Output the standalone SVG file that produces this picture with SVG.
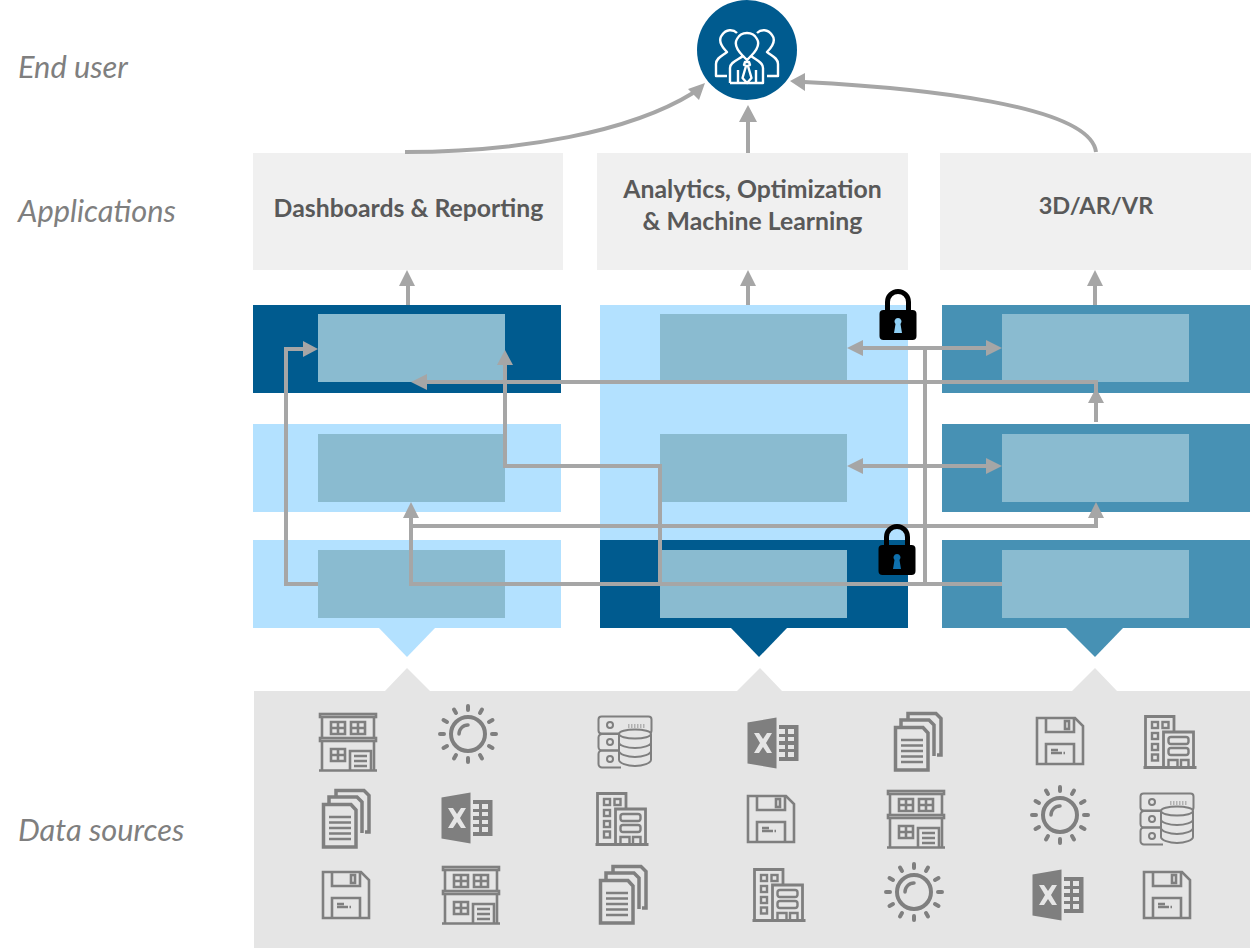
<svg xmlns="http://www.w3.org/2000/svg" width="1260" height="948" viewBox="0 0 1260 948">
<style>
.lbl{font-family:Lato,"Liberation Sans",sans-serif;font-style:italic;font-size:30.800px;fill:#7f7f7f}
.app{font-family:Lato,"Liberation Sans",sans-serif;font-weight:700;font-size:24.800px;fill:#595959;text-anchor:middle}
.appbox{fill:#f0f0f0}.lt{fill:#b3e1ff}.dk{fill:#005b8f}.md{fill:#4791b4}.in{fill:#8abbd0}
.c{fill:none;stroke:#a6a6a6;stroke-width:4}
.h{fill:#a6a6a6}
.i{fill:none;stroke:#7f7f7f;stroke-width:2.6}
.f{fill:#7f7f7f}
</style>
<defs>
<symbol id="shop" overflow="visible" viewBox="-30 -30 60 60" width="60" height="60">
<g class="i"><rect x="-28" y="-28" width="56" height="3"/><rect x="-28" y="-4" width="56" height="3"/><path d="M-26-25V-4M26-25V-4M-26-1V28M26-1V28M-29 28.500H29"/>
<path d="M-17-20h14v12h-14zM-10-20v12M-17-14h14M3-20h14v12h-14zM10-20v12M3-14h14M-17 7h14v12h-14zM-10 7v12M-17 13h14M2 28V9h21v19M6 14h13M6 19h13M6 24h13"/></g>
</symbol>
<symbol id="sun" overflow="visible" viewBox="-31 -31 62 62" width="62" height="62">
<circle class="i" r="17" style="stroke-width:4"/><path class="i" style="stroke-width:3.500;stroke-linecap:round" d="M-9 0A9 9 0 0 1 0-9"/>
<g class="i" style="stroke-width:4;stroke-linecap:round"><path d="M0-24V-28M0 24V28M24 0H28M-24 0H-28M12-21L14-24.500M-12-21L-14-24.500M12 21L14 24.500M-12 21L-14 24.500M21-12L24.500-14M-21-12L-24.500-14M21 12L24.500 14M-21 12L-24.500 14"/></g>
</symbol>
<symbol id="docs" overflow="visible" viewBox="-25 -30 50 60" width="50" height="60">
<g class="i" style="stroke-width:3.500"><path d="M-22.500-14.500H5L10-9V28H-22.500z"/><path d="M-17-15V-22H11L16-17V14"/><path d="M-10-22V-28.500H18L23-23.500V13H19"/></g>
<path class="i" style="stroke-width:2.400" d="M-17-2H5M-17 3.500H5M-17 9H5M-17 14.500H5M-17 20H5"/>
</symbol>
<symbol id="xls" overflow="visible" viewBox="-26 -26 52 52" width="52" height="52">
<path class="f" d="M-25.500-20.500L3.500-25.500V25.500L-25.500 20.500z"/>
<path d="M-1-10H-6L-10-4L-14-10H-19L-13 0L-19 10H-14L-10 4L-6 10H-1L-7 0z" fill="#e5e5e5"/>
<path class="f" d="M6-18H25.500V18H6V14H12V9H6V6H12V2H6V-2H12V-6H6V-9H12V-14H6zM15-14V-9H21V-14zM15-6V-2H21V-6zM15 2V6H21V2zM15 9V14H21V9z"/>
</symbol>
<symbol id="srv" overflow="visible" viewBox="-28 -27 56 54" width="56" height="54">
<g class="i" style="stroke-width:2"><rect x="-26.500" y="-25.500" width="53" height="17" rx="3"/><path d="M-6-8H-23a3.500 3.500 0 0 0-3.500 3.500V5a3.500 3.500 0 0 0 3.500 3.500H-7"/><path d="M-7 8.500H-23a3.500 3.500 0 0 0-3.500 3.500V22a3.500 3.500 0 0 0 3.500 3.500H-4"/>
<circle cx="-15" cy="-17" r="3"/><circle cx="-15" cy="0" r="3"/><circle cx="-15" cy="17" r="3"/>
<path d="M3-17H21M3-15H21" stroke-dasharray="1.500 1.500" style="stroke-width:1.200"/>
<ellipse cx="10" cy="-8" rx="16" ry="4.500" fill="#e5e5e5"/><path d="M-6-8V18C-6 21 2 24 10 24S26 21 26 18V-8M-6 0.500C-6 3.500 2 6 10 6S26 3.500 26 0.500M-6 9C-6 12 2 15 10 15S26 12 26 9"/></g>
</symbol>
<symbol id="off" overflow="visible" viewBox="-28 -27 56 54" width="56" height="54">
<g class="i" style="stroke-width:2.800"><path d="M-24.500 25V-25.500H4V-10"/><path d="M-6.500 25V-10H23.500V25"/><path d="M-26.500 25.500H26.500" style="stroke-width:3"/>
<g style="stroke-width:2.400"><rect x="-18" y="-20" width="6" height="6"/><rect x="-7.500" y="-20" width="6" height="6"/><rect x="-18" y="-9" width="6" height="6"/><rect x="-18" y="2" width="6" height="6"/><rect x="-18" y="12.500" width="6" height="6"/>
<rect x="-1.500" y="-5" width="20" height="7" rx="2.500"/><rect x="-1.500" y="6" width="20" height="7" rx="2.500"/><path d="M-1.500 25V18H7.500V25M11 25V18H18.500V25"/></g></g>
</symbol>
<symbol id="fd" overflow="visible" viewBox="-25 -25 50 50" width="50" height="50">
<g class="i"><path d="M-23-23H15L23-15V23H-23z"/><path d="M-14-23V-9H14V-23"/><rect x="5" y="-20" width="4" height="8"/><path d="M-14 23V3H14V23"/><path d="M-9 9H-2M-9 12H2M3.500 12H5"/></g>
</symbol>
<symbol id="lock" overflow="visible" viewBox="-20 -26 40 52" width="40" height="52">
<path d="M-10.500-3V-12A10.500 10.500 0 0 1 10.500-12V-3" fill="none" stroke="#000" stroke-width="5"/>
<rect x="-18.500" y="-4" width="37" height="30" rx="4" fill="#000"/>
</symbol>
</defs>
<rect width="1260" height="948" fill="#fff"/>
<text class="lbl" x="18" y="78">End user</text>
<text class="lbl" x="18" y="222">Applications</text>
<text class="lbl" x="18" y="841">Data sources</text>
<g id="panel"><path d="M254 691H385L407 668L430 691H737L760 668L782 691H1072L1095 668L1117 691H1250V948H254z" fill="#e5e5e5"/></g>
<g id="app-dashboards"><rect class="appbox" x="253" y="153" width="310" height="117"/><text class="app" x="408.500" y="217">Dashboards &amp; Reporting</text></g>
<g id="app-analytics"><rect class="appbox" x="597" y="153" width="311" height="117"/><text class="app"><tspan x="752.500" y="198">Analytics, Optimization</tspan><tspan x="752.500" y="230">&amp; Machine Learning</tspan></text></g>
<g id="app-3d"><rect class="appbox" x="940" y="153" width="311" height="117"/><text class="app" x="1096" y="214" style="font-size:23.500px">3D/AR/VR</text></g>
<g id="col-left">
<rect class="dk" x="253" y="305" width="308" height="88"/><rect class="lt" x="253" y="424" width="308" height="88"/><rect class="lt" x="253" y="540" width="308" height="88"/><path class="lt" d="M379 628H435L407 657z"/>
<rect class="in" x="318" y="314" width="187" height="68"/><rect class="in" x="318" y="434" width="187" height="68"/><rect class="in" x="318" y="550" width="187" height="68"/>
</g>
<g id="col-mid">
<rect class="lt" x="600" y="305" width="308" height="235"/><rect class="dk" x="600" y="540" width="308" height="88"/><path class="dk" d="M731 628H787L759 657z"/>
<rect class="in" x="660" y="314" width="187" height="68"/><rect class="in" x="660" y="434" width="187" height="68"/><rect class="in" x="660" y="550" width="187" height="68"/>
</g>
<g id="col-right">
<rect class="md" x="942" y="305" width="308" height="88"/><rect class="md" x="942" y="424" width="308" height="88"/><rect class="md" x="942" y="540" width="308" height="88"/><path class="md" d="M1066 628H1123L1095 657z"/>
<rect class="in" x="1002" y="314" width="187" height="68"/><rect class="in" x="1002" y="434" width="187" height="68"/><rect class="in" x="1002" y="550" width="187" height="68"/>
</g>
<g id="user"><circle cx="747" cy="50" r="50" fill="#005b8f"/>
<g fill="none" stroke="#fff" stroke-width="2.400" stroke-linejoin="round"><path d="M727 76H716V64C716 58 722 56 727 52C721 46 718 40 722 35C726 29 733 29 737 33"/><path d="M767 76H778V64C778 58 772 56 767 52C773 46 776 40 772 35C768 29 761 29 757 33"/>
<path d="M730 83V68C730 62 738 60 743 56C737 50 734 44 737 39C741 31 753 31 757 39C760 44 757 50 751 56C756 60 763 62 763 68V83H730"/><path d="M743 56L747 60L751 56M745 62H749L750 65L748 66H746L744 65zM746 66L742.500 78L747 83L751.500 78L748 66M738 70V83M756 70V83"/></g></g>
<g id="connectors">
<path class="c" d="M405 152C520 152 630 132 693 93"/>
<path class="c" d="M748 153V120"/>
<path class="c" d="M1096 152C1090 105 920 88 804 82"/>
<path class="c" d="M408 305V285M748 305V285M1095 305V285"/>
<path class="c" d="M318 584H286V349H304"/>
<path class="c" d="M505 364V466H660V584"/>
<path class="c" d="M1096 422V382H425"/>
<path class="c" d="M411 516V584H1002M411 526H1096V516"/>
<path class="c" d="M861 348H988M861 466H988M925 348V584"/>
<path class="h" d="M705 83L699 100L688 89zM748 105L757 122H739zM790 81L805 73L805 91zM407 270L415 286H399zM748 270L756 286H740zM1095 270L1103 286H1087zM318 349L303 341V357zM505 350L513 365H497zM411 382L427 374V390zM411 502L419 518H403zM1096 502L1104 518H1088zM1096 388L1104 403H1088zM847 348L863 340V356zM1002 348L986 340V356zM847 466L863 458V474zM1002 466L986 458V474z"/>
</g>
<g id="locks"><use href="#lock" x="878" y="288"/><use href="#lock" x="877" y="523"/>
<path d="M898 318a3.500 3.500 0 0 1 2.500 6L902 333H894L895.500 324a3.500 3.500 0 0 1 2.500-6z" fill="#8fd0f5"/>
<path d="M897 554a3.500 3.500 0 0 1 2.500 6L901 569H893L894.500 560a3.500 3.500 0 0 1 2.500-6z" fill="#0f70ad"/></g>
<g id="icons">
<use href="#shop" x="318" y="712"/><use href="#sun" x="437" y="703"/><use href="#srv" x="597" y="715"/><use href="#xls" x="747" y="717"/><use href="#docs" x="893" y="712"/><use href="#fd" x="1035" y="716"/><use href="#off" x="1142" y="715"/>
<use href="#docs" x="321" y="789"/><use href="#xls" x="441" y="792"/><use href="#off" x="594" y="792"/><use href="#fd" x="746" y="794"/><use href="#shop" x="886" y="789"/><use href="#sun" x="1029" y="784"/><use href="#srv" x="1139" y="792"/>
<use href="#fd" x="321" y="870"/><use href="#shop" x="441" y="865"/><use href="#docs" x="598" y="865"/><use href="#off" x="751" y="868"/><use href="#sun" x="883" y="861"/><use href="#xls" x="1032" y="869"/><use href="#fd" x="1142" y="870"/>
</g>
</svg>
